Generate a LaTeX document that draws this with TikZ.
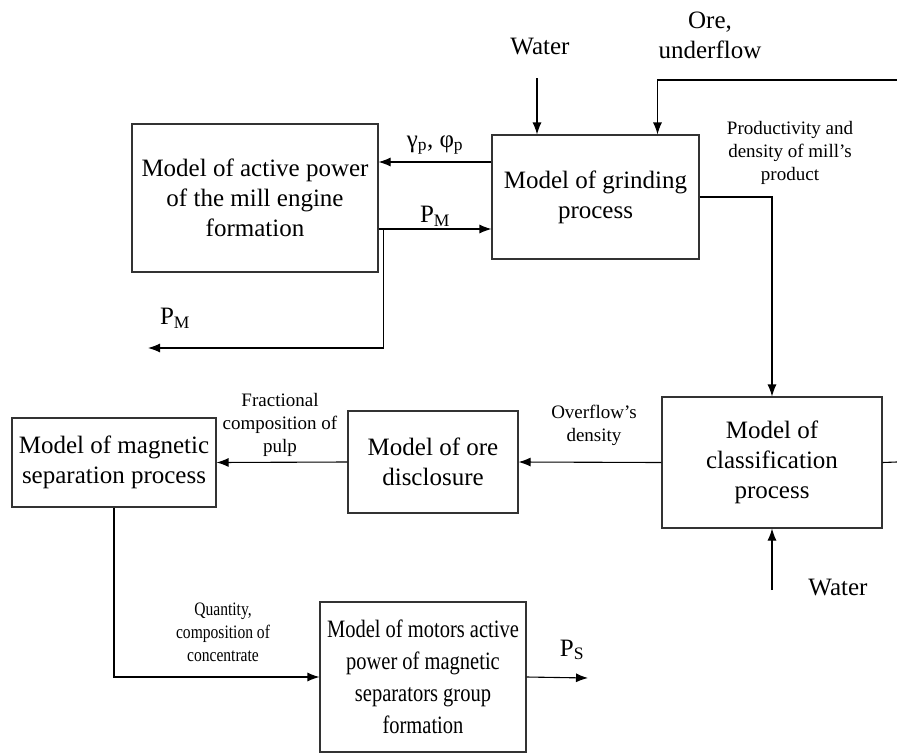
\documentclass[tikz,border=0pt]{standalone}
\usepackage{fontspec}
\setmainfont{Liberation Serif}
\newfontfamily\narrowserif[FakeStretch=0.82]{Liberation Serif}
\usepackage{tikz}
\usetikzlibrary{positioning}
\usetikzlibrary{calc}
\usetikzlibrary{arrows.meta}

\begin{document}
\begin{tikzpicture}[x=1pt,y=-1pt,line width=1.1pt]
\tikzstyle{block} =[rectangle,draw=black!80,align=center,inner sep=0pt,font=\fontsize{25}{30}\selectfont]
\tikzstyle{biglabel} =[align=center,inner sep=0pt,font=\fontsize{25}{30}\selectfont]
\tikzstyle{smalllabel} =[align=center,inner sep=0pt,font=\fontsize{19}{23}\selectfont]
\tikzstyle{flow} =[-{Latex[length=12pt,width=9pt]}]
\useasboundingbox (0,0) rectangle (897,755);

\node[block,minimum width=246pt,minimum height=148pt](power) at (255,198) {Model of active power\\of the mill engine\\formation};
\node[block,minimum width=207pt,minimum height=124pt](grind) at (595.5,197) {Model of grinding\\process};
\node[block,minimum width=220pt,minimum height=131pt](classif) at (772,462.5) {Model of\\classification\\process};
\node[block,minimum width=170pt,minimum height=102pt](disclos) at (433,462) {Model of ore\\disclosure};
\node[block,minimum width=204pt,minimum height=89pt](magsep) at (114,462.5) {Model of magnetic\\separation process};
\node[block,minimum width=206pt,minimum height=150pt,font=\narrowserif\fontsize{25}{32}\selectfont](motors) at (423,677) {Model of motors active\\power of magnetic\\separators group\\formation};

\node[biglabel](water1) at (540,47) {Water};
\node[biglabel](ore) at (710,35) {Ore,\\underflow};
\node[biglabel](water2) at (838,587) {Water};
\node[biglabel](gp) at (435,145) {γ\textsubscript{p}, φ\textsubscript{p}};
\node[biglabel](pm1) at (435,216) {P\textsubscript{M}};
\node[biglabel](pm2) at (175,318) {P\textsubscript{M}};
\node[biglabel](ps) at (572,650) {P\textsubscript{S}};
\node[smalllabel](prod) at (790,153) {Productivity and\\density of mill’s\\product};
\node[smalllabel](overfl) at (594,425) {Overflow’s\\density};
\node[smalllabel](fract) at (280,425) {Fractional\\composition of\\pulp};
\node[smalllabel,font=\narrowserif\fontsize{19}{23}\selectfont](quant) at (223,632) {Quantity,\\composition of\\concentrate};

\coordinate (waterin1) at (537,78);
\coordinate (orein) at (897,80);
\coordinate (pmout) at (148,348);
\coordinate (classout) at (897,462);
\coordinate (waterin2) at (772,590);
\coordinate (psout) at (588,678);

\draw[flow] ([yshift=35pt]grind.west)--([yshift=35pt]grind.west -| power.east);
\draw[flow] ([yshift=-31pt]power.east)--([yshift=-31pt]power.east -| grind.west);
\draw[flow] ([xshift=5pt,yshift=-31pt]power.east) |- (pmout);
\draw[flow] (waterin1)--(waterin1 |- grind.north);
\draw[flow] (orein) -| ([xshift=62pt]grind.north);
\draw[flow] (grind.east) -| (classif.north);
\draw (classif.east)--(classout);
\draw[flow] (waterin2)--(classif.south);
\draw[flow] (classif.west)--(disclos.east);
\draw[flow] (disclos.west)--(magsep.east);
\draw[flow] (magsep.south) |- (motors.west);
\draw[flow] (motors.east)--(psout);
\end{tikzpicture}
\end{document}
